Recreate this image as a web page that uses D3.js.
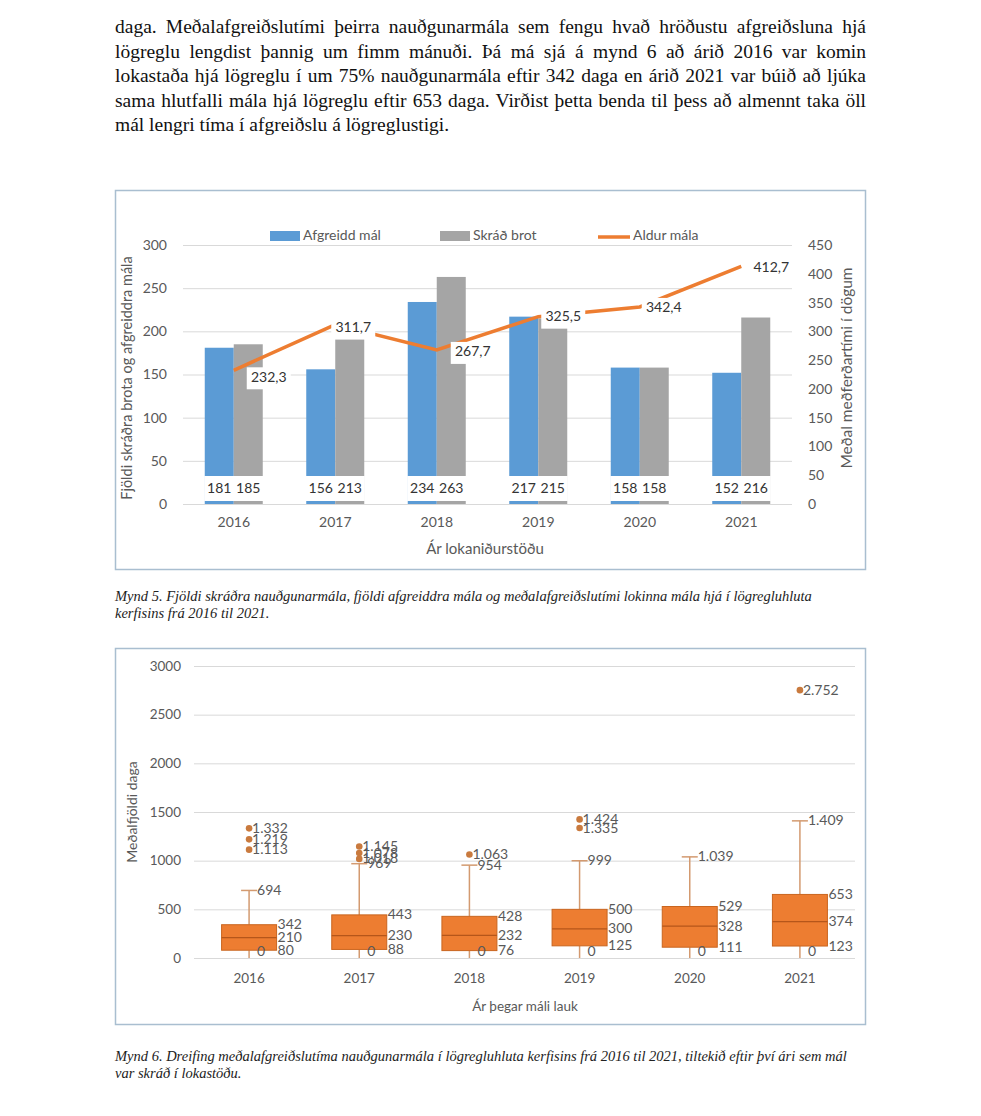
<!DOCTYPE html>
<html><head><meta charset="utf-8">
<script src="https://cdn.jsdelivr.net/npm/d3@7"></script>
<style>
body{margin:0;background:#fff;width:981px;height:1116px;position:relative;overflow:hidden}
.para{position:absolute;left:115px;top:15px;width:751px;font-family:"Liberation Serif","Times New Roman",serif;font-size:19.5px;line-height:24.6px;color:#111}
.para div{text-align:justify;text-align-last:justify;white-space:nowrap;overflow:visible}
.para div.last{text-align-last:left}
.cap{position:absolute;left:115px;width:760px;font-family:"Liberation Serif","Times New Roman",serif;font-style:italic;font-size:14.5px;line-height:17px;color:#222}
svg{position:absolute;left:0;top:0}
</style></head><body>
<div class="para">
<div>daga. Meðalafgreiðslutími þeirra nauðgunarmála sem fengu hvað hröðustu afgreiðsluna hjá</div>
<div>lögreglu lengdist þannig um fimm mánuði. Þá má sjá á mynd 6 að árið 2016 var komin</div>
<div>lokastaða hjá lögreglu í um 75% nauðgunarmála eftir 342 daga en árið 2021 var búið að ljúka</div>
<div>sama hlutfalli mála hjá lögreglu eftir 653 daga. Virðist þetta benda til þess að almennt taka öll</div>
<div class="last">mál lengri tíma í afgreiðslu á lögreglustigi.</div>
</div>
<div class="cap" style="top:588px">Mynd 5. Fjöldi skráðra nauðgunarmála, fjöldi afgreiddra mála og meðalafgreiðslutími lokinna mála hjá í lögregluhluta<br>kerfisins frá 2016 til 2021.</div>
<div class="cap" style="top:1048px">Mynd 6. Dreifing meðalafgreiðslutíma nauðgunarmála í lögregluhluta kerfisins frá 2016 til 2021, tiltekið eftir því ári sem mál<br>var skráð í lokastöðu.</div>
<svg id="s" width="981" height="1116"></svg>
<script>
// ---- Chart 1 data ----
const years = ["2016","2017","2018","2019","2020","2021"];
const afgreidd = [181,156,234,217,158,152];
const skrad = [185,213,263,215,158,216];
const aldur = [232.3,311.7,267.7,325.5,342.4,412.7];
const leftTicks = [0,50,100,150,200,250,300];
const rightTicks = [0,50,100,150,200,250,300,350,400,450];
// ---- Chart 2 data ----
const bxMin = [0,0,0,0,0,0];
const bxQ1 = [80,88,76,125,111,123];
const bxMed = [210,230,232,300,328,374];
const bxQ3 = [342,443,428,500,529,653];
const bxMax = [694,969,954,999,1039,1409];
const outliers = [[1113,1219,1332],[1018,1078,1145],[1063],[1335,1424],[],[2752]];
const boxTicks = [0,500,1000,1500,2000,2500,3000];

const svg = d3.select("#s");
const FONT = "Lato, 'Open Sans', sans-serif";
const TXT = "#595959";
const BLUE="#5B9BD5", GRAY="#A5A5A5", ORANGE="#ED7D31";
const fmtC = d => d.toFixed(1).replace(".", ",");
const fmtD = d => d>=1000 ? d3.format(",")(d).replace(/,/g,".") : String(d);

// ===== Chart 1 =====
svg.append("rect").attr("x",115.5).attr("y",190.5).attr("width",750).attr("height",379)
  .attr("fill","#fff").attr("stroke","#a9bed0").attr("stroke-width",1.5);
const x1 = d3.scaleBand().domain(years).range([183,792]);
const yL = d3.scaleLinear().domain([0,300]).range([504,245]);
const yR = d3.scaleLinear().domain([0,450]).range([504,245]);
const g1 = svg.append("g");
g1.append("g").attr("transform","translate(183,0)")
  .call(d3.axisLeft(yL).tickValues(leftTicks).tickSize(-609).tickFormat(""))
  .call(g=>{g.select(".domain").remove();g.selectAll("line").attr("stroke","#d9d9d9");});
g1.append("g").attr("transform","translate(170,0)")
  .call(d3.axisLeft(yL).tickValues(leftTicks).tickSize(0).tickFormat(d3.format("d")))
  .call(g=>{g.select(".domain").remove();g.selectAll("text").attr("fill",TXT).style("font-family",FONT).style("font-size","14px");});
g1.append("g").attr("transform","translate(805,0)")
  .call(d3.axisRight(yR).tickValues(rightTicks).tickSize(0).tickFormat(d3.format("d")))
  .call(g=>{g.select(".domain").remove();g.selectAll("text").attr("fill",TXT).style("font-family",FONT).style("font-size","14px");});
g1.append("g").attr("transform","translate(0,514)")
  .call(d3.axisBottom(x1).tickSize(0))
  .call(g=>{g.select(".domain").remove();g.selectAll("text").attr("fill",TXT).style("font-family",FONT).style("font-size","14px");});
const sub = d3.scaleBand().domain(["a","s"]).range([0,58]);
const off = (x1.bandwidth()-58)/2;
const series = [{k:"a",v:afgreidd,c:BLUE},{k:"s",v:skrad,c:GRAY}];
series.forEach(s=>{
  g1.selectAll(null).data(years).enter().append("rect")
    .attr("x",d=>x1(d)+off+sub(s.k)).attr("width",sub.bandwidth())
    .attr("y",(d,i)=>yL(s.v[i])).attr("height",(d,i)=>yL(0)-yL(s.v[i])).attr("fill",s.c);
});
series.forEach(s=>{
  g1.selectAll(null).data(years).enter().append("rect")
    .attr("x",d=>x1(d)+off+sub(s.k)-0.5).attr("width",sub.bandwidth()+1)
    .attr("y",yL(0)-28).attr("height",25).attr("fill","#fff");
  g1.selectAll(null).data(years).enter().append("text")
    .attr("x",d=>x1(d)+off+sub(s.k)+sub.bandwidth()/2).attr("y",yL(0)-15)
    .attr("text-anchor","middle").attr("dominant-baseline","middle")
    .attr("fill","#333").style("font-family",FONT).style("font-size","14px")
    .text((d,i)=>s.v[i]);
});
const cx1 = d=>x1(d)+x1.bandwidth()/2;
g1.append("path").datum(years)
  .attr("d",d3.line().x(d=>cx1(d)).y((d,i)=>yR(aldur[i])))
  .attr("fill","none").attr("stroke",ORANGE).attr("stroke-width",3.5);
const lblOff = [[35,8],[18,4],[36,3],[25,1],[24,2],[30,2]];
years.forEach((d,i)=>{
  const lx = cx1(d)+lblOff[i][0], ly = yR(aldur[i])+lblOff[i][1];
  g1.append("rect").attr("x",lx-22).attr("y",ly-11).attr("width",44).attr("height",22).attr("fill","#fff");
  g1.append("text").attr("x",lx).attr("y",ly).attr("text-anchor","middle").attr("dominant-baseline","middle")
    .attr("fill","#333").style("font-family",FONT).style("font-size","14px").text(fmtC(aldur[i]));
});
const lg = svg.append("g").style("font-family",FONT).style("font-size","14px");
lg.append("rect").attr("x",270).attr("y",231).attr("width",30).attr("height",10).attr("fill",BLUE);
lg.append("text").attr("x",303).attr("y",236).attr("dominant-baseline","middle").attr("fill",TXT).text("Afgreidd mál");
lg.append("rect").attr("x",440).attr("y",231).attr("width",30).attr("height",10).attr("fill",GRAY);
lg.append("text").attr("x",473).attr("y",236).attr("dominant-baseline","middle").attr("fill",TXT).text("Skráð brot");
lg.append("line").attr("x1",598).attr("x2",630).attr("y1",237).attr("y2",237).attr("stroke",ORANGE).attr("stroke-width",3.5);
lg.append("text").attr("x",633).attr("y",236).attr("dominant-baseline","middle").attr("fill",TXT).text("Aldur mála");
svg.append("text").attr("transform","translate(128,378) rotate(-90)").attr("text-anchor","middle").attr("dominant-baseline","middle")
  .attr("fill",TXT).style("font-family",FONT).style("font-size","14.5px").text("Fjöldi skráðra brota og afgreiddra mála");
svg.append("text").attr("transform","translate(848,368) rotate(-90)").attr("text-anchor","middle").attr("dominant-baseline","middle")
  .attr("fill",TXT).style("font-family",FONT).style("font-size","15.5px").text("Meðal meðferðartími í dögum");
svg.append("text").attr("x",485).attr("y",550).attr("text-anchor","middle").attr("dominant-baseline","middle")
  .attr("fill",TXT).style("font-family",FONT).style("font-size","15px").text("Ár lokaniðurstöðu");

// ===== Chart 2 =====
svg.append("rect").attr("x",115.5).attr("y",648.5).attr("width",750).attr("height",376)
  .attr("fill","#fff").attr("stroke","#a9bed0").attr("stroke-width",1.5);
const x2 = d3.scaleBand().domain(years).range([194,855]);
const y2 = d3.scaleLinear().domain([0,3000]).range([958,666]);
const g2 = svg.append("g");
g2.append("g").attr("transform","translate(194,0)")
  .call(d3.axisLeft(y2).tickValues(boxTicks).tickSize(-661).tickFormat(""))
  .call(g=>{g.select(".domain").remove();g.selectAll("line").attr("stroke","#d9d9d9");});
g2.append("g").attr("transform","translate(184,0)")
  .call(d3.axisLeft(y2).tickValues(boxTicks).tickSize(0).tickFormat(d3.format("d")))
  .call(g=>{g.select(".domain").remove();g.selectAll("text").attr("fill",TXT).style("font-family",FONT).style("font-size","13.5px");});
g2.append("g").attr("transform","translate(0,970)")
  .call(d3.axisBottom(x2).tickSize(0))
  .call(g=>{g.select(".domain").remove();g.selectAll("text").attr("fill",TXT).style("font-family",FONT).style("font-size","13.5px");});
svg.append("text").attr("transform","translate(133,812) rotate(-90)").attr("text-anchor","middle").attr("dominant-baseline","middle")
  .attr("fill",TXT).style("font-family",FONT).style("font-size","14px").text("Meðalfjöldi daga");
svg.append("text").attr("x",525).attr("y",1008).attr("text-anchor","middle").attr("dominant-baseline","middle")
  .attr("fill",TXT).style("font-family",FONT).style("font-size","13.5px").text("Ár þegar máli lauk");
const WH="#d39a70", BW=55;
const lab = (x,y,t)=>g2.append("text").attr("x",x).attr("y",y).attr("dominant-baseline","middle")
  .attr("fill",TXT).style("font-family",FONT).style("font-size","14px").text(t);
years.forEach((d,i)=>{
  const c = x2(d)+x2.bandwidth()/2;
  g2.append("line").attr("x1",c).attr("x2",c).attr("y1",y2(bxMin[i])).attr("y2",y2(bxQ1[i])).attr("stroke",WH).attr("stroke-width",1.5);
  g2.append("line").attr("x1",c).attr("x2",c).attr("y1",y2(bxQ3[i])).attr("y2",y2(bxMax[i])).attr("stroke",WH).attr("stroke-width",1.5);
  g2.append("line").attr("x1",c-8).attr("x2",c+8).attr("y1",y2(bxMax[i])).attr("y2",y2(bxMax[i])).attr("stroke",WH).attr("stroke-width",1.5);
  g2.append("rect").attr("x",c-BW/2).attr("width",BW).attr("y",y2(bxQ3[i])).attr("height",y2(bxQ1[i])-y2(bxQ3[i]))
    .attr("fill",ORANGE).attr("stroke","#c9651f").attr("stroke-width",1);
  g2.append("line").attr("x1",c-BW/2).attr("x2",c+BW/2).attr("y1",y2(bxMed[i])).attr("y2",y2(bxMed[i])).attr("stroke","#b5561a").attr("stroke-width",1.2);
  outliers[i].forEach(o=>{
    g2.append("circle").attr("cx",c).attr("cy",y2(o)).attr("r",3.3).attr("fill","#c97a3e");
    lab(c+3,y2(o)+1,fmtD(o));
  });
  lab(c+BW/2+1,y2(bxQ3[i])+1,fmtD(bxQ3[i]));
  lab(c+BW/2+1,y2(bxMed[i])+1,fmtD(bxMed[i]));
  lab(c+BW/2+1,y2(bxQ1[i])+1,fmtD(bxQ1[i]));
  lab(c+8,y2(bxMax[i])+1,fmtD(bxMax[i]));
  lab(c+8,y2(0)-6,fmtD(bxMin[i]));
});
</script>
</body></html>
